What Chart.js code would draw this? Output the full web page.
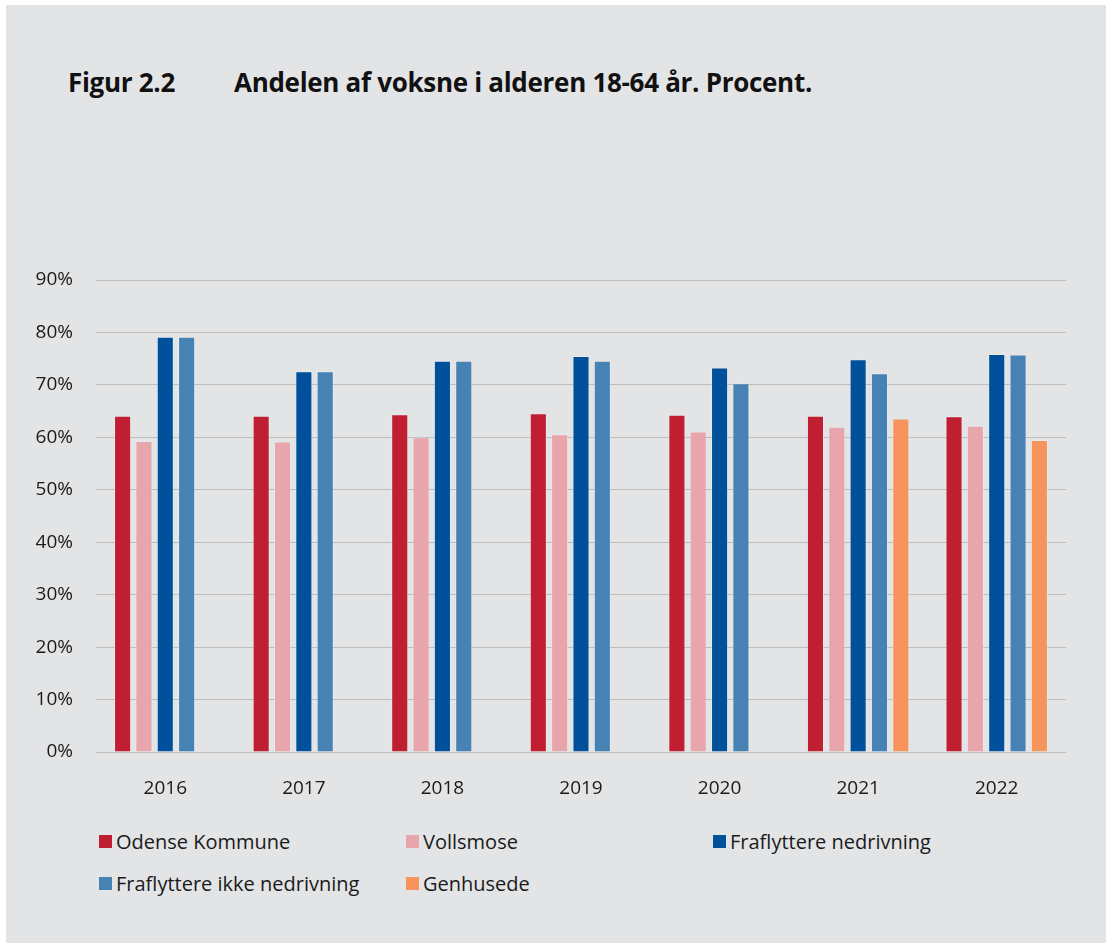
<!DOCTYPE html>
<html>
<head>
<meta charset="utf-8">
<script src="https://cdn.jsdelivr.net/npm/chart.js@4.4.1/dist/chart.umd.min.js"></script>
<style>
  html, body { margin: 0; padding: 0; background: #ffffff; }
  body { width: 1106px; height: 943px; position: relative; overflow: hidden; font-family: "Open Sans", "Noto Sans", sans-serif; }
  #panel { position: absolute; left: 6px; top: 5px; right: 0; bottom: 0; background: #e3e4e6; }
  .title { position: absolute; top: 64px; font-weight: 700; font-size: 26px; color: #111; white-space: nowrap; letter-spacing: -0.3px; }
  #chartWrap { position: absolute; left: 0; top: 0; width: 1106px; height: 800px; }
  #legend { position: absolute; left: 0; top: 0; width: 1106px; }
  .li { position: absolute; display: flex; align-items: center; font-size: 20px; color: #1a1a1a; white-space: nowrap; }
  .sw { width: 13px; height: 13px; margin-right: 4px; }
</style>
</head>
<body>
<div id="panel"></div>
<div class="title" style="left:68px">Figur 2.2</div>
<div class="title" style="left:234px">Andelen af voksne i alderen 18-64 år. Procent.</div>
<div id="chartWrap"><canvas id="c" width="1106" height="800"></canvas></div>
<div id="legend"></div>
<script>
const categories = ["2016", "2017", "2018", "2019", "2020", "2021", "2022"];
const seriesNames = ["Odense Kommune", "Vollsmose", "Fraflyttere nedrivning", "Fraflyttere ikke nedrivning", "Genhusede"];
const odense = [64.1, 64.1, 64.4, 64.6, 64.3, 64.1, 64.0];
const vollsmose = [59.3, 59.2, 60.0, 60.6, 61.1, 62.0, 62.2];
const fraNedrivning = [79.2, 72.6, 74.6, 75.5, 73.3, 74.9, 75.9];
const fraIkkeNedrivning = [79.2, 72.6, 74.6, 74.6, 70.3, 72.2, 75.8];
const genhusede = [null, null, null, null, null, 63.6, 59.5];
const yTicks = [0, 10, 20, 30, 40, 50, 60, 70, 80, 90];
const colors = ["#c01f32", "#e8a6ac", "#00509b", "#4682b4", "#f7945c"];

const seriesValues = [odense, vollsmose, fraNedrivning, fraIkkeNedrivning, genhusede];
const datasets = seriesNames.map((name, i) => ({
  label: name,
  data: seriesValues[i],
  backgroundColor: colors[i],
  borderColor: "rgba(255,255,255,0.22)",
  borderWidth: 1,
  categoryPercentage: 0.77,
  barPercentage: 0.8
}));

new Chart(document.getElementById("c"), {
  type: "bar",
  data: { labels: categories, datasets },
  options: {
    responsive: false,
    animation: false,
    layout: { padding: { left: 0, right: 40, top: 280, bottom: 0 } },
    plugins: { legend: { display: false }, tooltip: { enabled: false }, title: { display: false } },
    scales: {
      x: {
        grid: { display: false },
        border: { display: false },
        ticks: { color: "#1a1a1a", font: { family: "Open Sans", size: 19 }, padding: 17, maxRotation: 0 },
        afterFit: (s) => { s.height = 48; }
      },
      y: {
        min: 0, max: 90,
        afterBuildTicks: (s) => { s.ticks = yTicks.map(v => ({ value: v })); },
        ticks: { color: "#1a1a1a", font: { family: "Open Sans", size: 19 }, padding: 23, callback: (v) => v + "%" },
        grid: { color: "#bebebe", lineWidth: 1, drawTicks: false },
        border: { display: false },
        afterFit: (s) => { s.width = 96; }
      }
    }
  }
});

// HTML legend built from datasets
const legendPos = [[99, 842], [406, 842], [713, 842], [99, 884], [406, 884]];
const lg = document.getElementById("legend");
seriesNames.forEach((name, i) => {
  const d = document.createElement("div");
  d.className = "li";
  d.style.left = legendPos[i][0] + "px";
  d.style.top = (legendPos[i][1] - 14) + "px";
  d.innerHTML = '<span class="sw" style="background:' + colors[i] + '"></span><span></span>';
  d.lastChild.textContent = name;
  lg.appendChild(d);
});
</script>
</body>
</html>
